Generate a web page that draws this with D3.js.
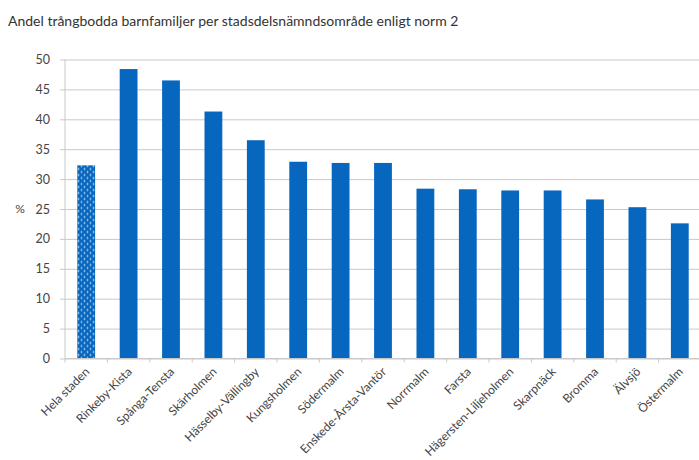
<!DOCTYPE html>
<html>
<head>
<meta charset="utf-8">
<script src="https://cdn.jsdelivr.net/npm/d3@7"></script>
<style>
  body { margin: 0; background: #fff; }
  text { font-family: Lato, "DejaVu Sans", sans-serif; }
</style>
</head>
<body>
<div id="chart"></div>
<script>
var title = "Andel trångbodda barnfamiljer per stadsdelsnämndsområde enligt norm 2";
var districts = ["Hela staden", "Rinkeby-Kista", "Spånga-Tensta", "Skärholmen", "Hässelby-Vällingby",
    "Kungsholmen", "Södermalm", "Enskede-Årsta-Vantör", "Norrmalm", "Farsta",
    "Hägersten-Liljeholmen", "Skarpnäck", "Bromma", "Älvsjö", "Östermalm"];
var shares = [32.3, 48.4, 46.5, 41.3, 36.5, 32.9, 32.7, 32.7, 28.4, 28.3, 28.1, 28.1, 26.6, 25.3, 22.6];
var yTicks = [0, 5, 10, 15, 20, 25, 30, 35, 40, 45, 50];

var W = 699, H = 460;
var margin = {top: 59.5, right: -2, bottom: 101.5, left: 65};
var width = W - margin.left - margin.right,
    height = H - margin.top - margin.bottom;

var svg = d3.select("#chart").append("svg")
    .attr("width", W)
    .attr("height", H);

// dotted fill for the whole-city bar
var pat = svg.append("defs").append("pattern")
    .attr("id", "dots")
    .attr("patternUnits", "userSpaceOnUse")
    .attr("width", 6).attr("height", 6);
pat.append("rect").attr("width", 6).attr("height", 6).attr("fill", "#0767bf");
pat.append("circle").attr("cx", 1.5).attr("cy", 1.5).attr("r", 0.9).attr("fill", "#b9d4ee");
pat.append("circle").attr("cx", 4.5).attr("cy", 4.5).attr("r", 0.9).attr("fill", "#b9d4ee");

svg.append("text")
    .attr("x", 8)
    .attr("y", 26)
    .attr("font-size", "14px")
    .attr("fill", "#333")
    .text(title);

var g = svg.append("g")
    .attr("transform", "translate(" + margin.left + "," + margin.top + ")");

var x = d3.scaleBand()
    .domain(districts)
    .range([0, width])
    .paddingInner(0.58)
    .paddingOuter(0.29);

var y = d3.scaleLinear()
    .domain([0, 50])
    .range([height, 0]);

// gridlines + y labels
var yAxis = g.append("g")
    .call(d3.axisLeft(y).tickValues(yTicks).tickSize(-width - 5).tickPadding(10).tickSizeOuter(0))
    .attr("transform", "translate(-5,0)");
yAxis.select(".domain").remove();
yAxis.selectAll(".tick line").attr("stroke", "#c9c9c9");
yAxis.selectAll(".tick text").attr("font-size", "12.5px").attr("fill", "#444");

g.append("line")
    .attr("x1", 0).attr("x2", 0)
    .attr("y1", 0).attr("y2", height)
    .attr("stroke", "#c9c9c9");

svg.append("text")
    .attr("x", 20)
    .attr("y", margin.top + y(25))
    .attr("dy", "0.35em")
    .attr("text-anchor", "middle")
    .attr("font-size", "12px")
    .attr("fill", "#444")
    .text("%");

g.selectAll(".bar")
    .data(districts)
    .enter()
    .append("rect")
    .attr("class", "bar")
    .attr("x", function(d) { return x(d); })
    .attr("width", x.bandwidth())
    .attr("y", function(d, i) { return y(shares[i]); })
    .attr("height", function(d, i) { return height - y(shares[i]); })
    .attr("fill", function(d, i) { return i === 0 ? "url(#dots)" : "#0767bf"; });

// x axis with ticks between categories
var xAxis = g.append("g")
    .attr("transform", "translate(0," + height + ")");
xAxis.append("line")
    .attr("x1", 0).attr("x2", width)
    .attr("stroke", "#c9c9c9");
xAxis.selectAll(".sep")
    .data(d3.range(districts.length + 1))
    .enter()
    .append("line")
    .attr("x1", function(i) { return i * x.step(); })
    .attr("x2", function(i) { return i * x.step(); })
    .attr("y1", 0).attr("y2", 4)
    .attr("stroke", "#c9c9c9");

xAxis.selectAll(".lbl")
    .data(districts)
    .enter()
    .append("text")
    .attr("transform", function(d) {
        return "translate(" + (x(d) + x.bandwidth() / 2 + 4) + ",14) rotate(-45)";
    })
    .attr("text-anchor", "end")
    .attr("font-size", "12px")
    .attr("fill", "#444")
    .text(function(d) { return d; });
</script>
</body>
</html>
